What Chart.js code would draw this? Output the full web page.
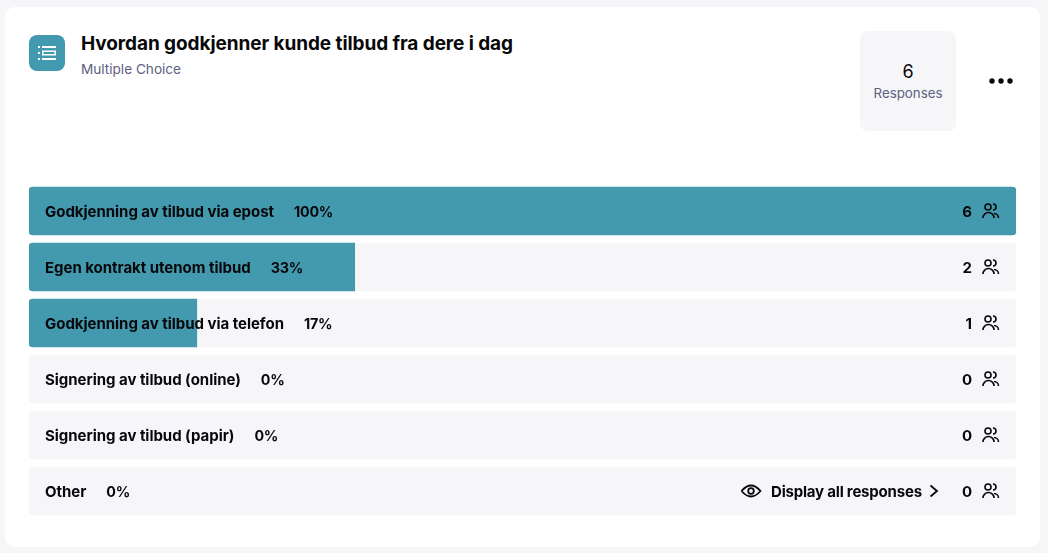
<!DOCTYPE html>
<html>
<head>
<meta charset="utf-8">
<script src="https://cdn.jsdelivr.net/npm/chart.js@4"></script>
<style>
html, body { margin: 0; padding: 0; width: 1048px; height: 553px; overflow: hidden; background: #f6f6f9; font-family: Inter, sans-serif; color: #08080a; }
.card { position: absolute; left: 5px; top: 7px; width: 1035px; height: 540px; background: #fff; border-radius: 10px; }
.icon { position: absolute; left: 29px; top: 35px; width: 36px; height: 36px; border-radius: 8px; background: #4399ae; }
h1 { position: absolute; left: 81px; top: 31px; margin: 0; font-size: 19px; line-height: 26px; font-weight: 700; letter-spacing: -0.08px; white-space: nowrap; }
.sub { position: absolute; left: 81px; top: 61px; font-size: 13.6px; line-height: 17px; color: #5d6180; white-space: nowrap; }
.resp { position: absolute; left: 860px; top: 31px; width: 96px; height: 100px; border-radius: 8px; background: #f6f6f9; text-align: center; }
.resp b { position: absolute; left: 0; right: 0; top: 30px; font-size: 18px; line-height: 22px; font-weight: 400; }
.resp span { position: absolute; left: 0; right: 0; top: 54px; font-size: 13.3px; line-height: 17px; color: #5d6180; }
.dots { position: absolute; left: 989px; top: 78px; }
canvas { position: absolute; left: 0; top: 0; }
</style>
</head>
<body>
<div class="card"></div>
<div class="icon">
    <svg width="36" height="36" viewBox="0 0 36 36" fill="#fff">
        <rect x="9" y="11" width="2" height="2"/><rect x="9" y="17" width="2" height="2"/><rect x="9" y="23" width="2" height="2"/>
        <rect x="13" y="11" width="14" height="2"/><rect x="13" y="23" width="14" height="2"/>
        <path d="M13 15.5h14v5H13z M14.5 17v2h11v-2z" fill-rule="evenodd"/>
    </svg>
</div>
<h1>Hvordan godkjenner kunde tilbud fra dere i dag</h1>
<div class="sub">Multiple Choice</div>
<div class="resp"><b>6</b><span>Responses</span></div>
<svg class="dots" width="24" height="6" fill="#08080a"><circle cx="3" cy="3" r="2.7"/><circle cx="12" cy="3" r="2.7"/><circle cx="21" cy="3" r="2.7"/></svg>
<canvas id="chart" width="1048" height="553"></canvas>
<script>
const categories = ['Godkjenning av tilbud via epost', 'Egen kontrakt utenom tilbud', 'Godkjenning av tilbud via telefon', 'Signering av tilbud (online)', 'Signering av tilbud (papir)', 'Other'];
const percents = [100, 33, 17, 0, 0, 0];
const counts = [6, 2, 1, 0, 0, 0];
const fullTrack = [100, 100, 100, 100, 100, 100];
const otherLink = 'Display all responses';

const TEAL = '#4399ae';
const TRACK = '#f6f6f9';
const INK = '#08080a';
const ROW_FONT = '700 15px Inter, sans-serif';
const PERCENT_FONT = '700 14.3px Inter, sans-serif';

function drawPeople(ctx, x, y) {
    // x,y = top-left of the 17x16 icon
    ctx.save();
    ctx.translate(x, y);
    ctx.strokeStyle = INK;
    ctx.lineWidth = 1.6;
    ctx.beginPath(); ctx.arc(6, 4, 3, 0, Math.PI * 2); ctx.stroke();
    ctx.beginPath(); ctx.arc(6.5, 15, 5.5, Math.PI, 0); ctx.stroke();
    ctx.beginPath(); ctx.arc(11, 4, 3, -Math.PI / 2, Math.PI / 2); ctx.stroke();
    ctx.beginPath(); ctx.arc(12, 15, 4.5, -Math.PI / 2, 0); ctx.stroke();
    ctx.restore();
}

function drawEye(ctx, cx, cy) {
    ctx.save();
    ctx.strokeStyle = INK;
    ctx.lineWidth = 1.8;
    ctx.beginPath();
    ctx.moveTo(cx - 9.5, cy);
    ctx.quadraticCurveTo(cx, cy - 11, cx + 9.5, cy);
    ctx.quadraticCurveTo(cx, cy + 11, cx - 9.5, cy);
    ctx.stroke();
    ctx.beginPath(); ctx.arc(cx, cy, 2.8, 0, Math.PI * 2); ctx.stroke();
    ctx.restore();
}

function drawChevron(ctx, x, cy) {
    ctx.save();
    ctx.strokeStyle = INK;
    ctx.lineWidth = 1.8;
    ctx.beginPath();
    ctx.moveTo(x, cy - 5.5);
    ctx.lineTo(x + 6.5, cy);
    ctx.lineTo(x, cy + 5.5);
    ctx.stroke();
    ctx.restore();
}

const rowText = {
    id: 'rowText',
    afterDatasetsDraw(chart) {
        const { ctx, scales: { y } } = chart;
        ctx.save();
        ctx.fillStyle = INK;
        ctx.textBaseline = 'middle';
        categories.forEach((name, i) => {
            const mid = y.getPixelForValue(i);
            const cy = mid + 1.5;
            ctx.font = ROW_FONT;
            ctx.letterSpacing = '-0.03px';
            ctx.textAlign = 'left';
            ctx.fillText(name, 45, cy);
            const w = ctx.measureText(name).width;
            ctx.textAlign = 'right';
            ctx.fillText(String(counts[i]), 972, cy);
            ctx.font = PERCENT_FONT;
            ctx.letterSpacing = '-0.2px';
            ctx.textAlign = 'left';
            ctx.fillText(percents[i] + '%', 45 + w + 20, cy);
            drawPeople(ctx, 982, mid - 8);
        });
        const last = y.getPixelForValue(categories.length - 1);
        ctx.font = ROW_FONT;
        ctx.letterSpacing = '-0.2px';
        ctx.textAlign = 'left';
        ctx.fillText(otherLink, 771, last + 1.5);
        drawEye(ctx, 751, last);
        drawChevron(ctx, 930.5, last);
        ctx.restore();
    }
};

new Chart(document.getElementById('chart'), {
    type: 'bar',
    data: {
        labels: categories,
        datasets: [
            {
                data: percents,
                // a zero bar still paints its rounded corners, so hide it
                backgroundColor: c => c.raw > 0 ? TEAL : 'transparent',
                borderRadius: c => c.raw >= 100 ? 4 : { topLeft: 4, bottomLeft: 4, topRight: 0, bottomRight: 0 },
                borderSkipped: false,
                grouped: false,
                barThickness: 48,
                order: 1
            },
            {
                data: fullTrack,
                backgroundColor: TRACK,
                borderRadius: 4,
                borderSkipped: false,
                grouped: false,
                barThickness: 48,
                order: 2
            }
        ]
    },
    options: {
        indexAxis: 'y',
        responsive: false,
        animation: false,
        layout: { padding: { left: 29, right: 32, top: 183, bottom: 34 } },
        plugins: { legend: { display: false }, tooltip: { enabled: false } },
        scales: {
            x: { display: false, min: 0, max: 100 },
            y: { display: false }
        }
    },
    plugins: [rowText]
});
</script>
</body>
</html>
